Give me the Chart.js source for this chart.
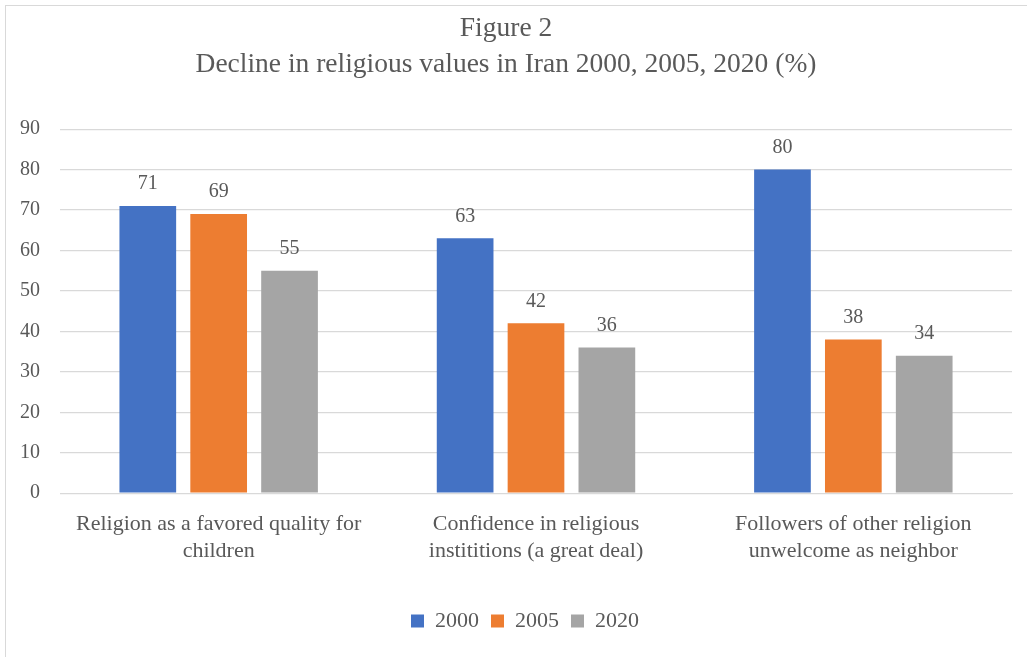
<!DOCTYPE html>
<html><head><meta charset="utf-8">
<script src="https://cdn.jsdelivr.net/npm/chart.js@4/dist/chart.umd.min.js"></script>
<style>
html,body{margin:0;padding:0;background:#fff;}
#frame{position:absolute;left:5px;top:5px;width:1030px;height:660px;border:1px solid #d9d9d9;box-sizing:border-box;}
#wrap{position:absolute;left:0;top:0;width:1027px;height:657px;}
</style></head>
<body>
<div id="frame"></div>
<div id="wrap"><canvas id="c"></canvas></div>
<script>
const categories = [["Religion as a favored quality for","children"],["Confidence in religious","instititions (a great deal)"],["Followers of other religion","unwelcome as neighbor"]];
const series2000 = [71, 63, 80];
const series2005 = [69, 42, 38];
const series2020 = [55, 36, 34];
const seriesNames = ["2000","2005","2020"];
const yTicks = [0,10,20,30,40,50,60,70,80,90];
const FONT = "'Liberation Serif', 'DejaVu Serif', serif";
const TXT = '#595959';

const labelPlugin = {
  id:'barLabels',
  afterLayout(chart){
    if (chart.legend){ chart.legend.left += 19; chart.legend.right += 19; }
  },
  afterDatasetsDraw(chart){
    const ctx = chart.ctx;
    ctx.save();
    ctx.font = "20px " + FONT;
    ctx.fillStyle = TXT;
    ctx.textAlign = 'center';
    ctx.textBaseline = 'bottom';
    chart.data.datasets.forEach((ds,i)=>{
      chart.getDatasetMeta(i).data.forEach((bar,j)=>{
        ctx.fillText(String(ds.data[j]), bar.x, bar.y - 12);
      });
    });
    ctx.restore();
  }
};

new Chart(document.getElementById('c'),{
  type:'bar',
  data:{
    labels:categories,
    datasets:[
      {label:seriesNames[0],data:series2000,backgroundColor:'#4472c4'},
      {label:seriesNames[1],data:series2005,backgroundColor:'#ed7d31'},
      {label:seriesNames[2],data:series2020,backgroundColor:'#a5a5a5'}
    ]
  },
  options:{
    responsive:true,maintainAspectRatio:false,animation:false,
    layout:{padding:{left:0,right:15,top:8,bottom:15}},
    datasets:{bar:{categoryPercentage:0.67,barPercentage:0.8}},
    plugins:{
      title:{display:true,text:["Figure 2","Decline in religious values in Iran 2000, 2005, 2020 (%)"],
        color:TXT,font:{family:FONT,size:27.5,weight:'normal',lineHeight:1.33},padding:{top:2,bottom:46}},
      legend:{position:'bottom',labels:{color:TXT,font:{family:FONT,size:22},boxWidth:13,boxHeight:13,padding:12}},
      tooltip:{enabled:false}
    },
    scales:{
      x:{grid:{display:false},border:{color:'#d9d9d9'},
        ticks:{color:TXT,font:{family:FONT,size:22,lineHeight:1.2},padding:10,maxRotation:0},
        afterFit(s){s.height += 24;}},
      y:{min:0,max:90,afterBuildTicks(s){s.ticks=yTicks.map(v=>({value:v}));},
        grid:{color:'#d9d9d9',lineWidth:1.3,drawTicks:false},border:{display:false},
        ticks:{color:TXT,font:{family:FONT,size:20},padding:20}}
    }
  },
  plugins:[labelPlugin]
});
</script>
</body></html>
